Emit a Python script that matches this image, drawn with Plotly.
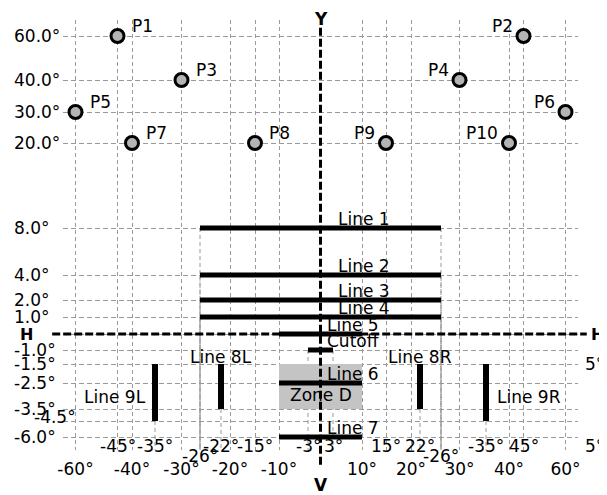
import numpy as np
import plotly.graph_objects as go

# ---------------- data (angles in degrees) ----------------
POINT_NAMES = ["P1", "P2", "P3", "P4", "P5", "P6", "P7", "P8", "P9", "P10"]
POINT_X = [-45, 45, -30, 30, -60, 60, -40, -15, 15, 40]
POINT_Y = [60, 60, 40, 40, 30, 30, 20, 20, 20, 20]
POINT_SIDE = ["right", "left", "right", "left", "right", "left", "right", "right", "left", "left"]

HLINE_NAMES = ["Line 1", "Line 2", "Line 3", "Line 4", "Line 5", "Cutoff", "Line 6", "Line 7"]
HLINE_Y = [8, 4, 2, 1, 0, -1, -2.5, -6]
HLINE_X0 = [-26, -26, -26, -26, -10, -3, -10, -10]
HLINE_X1 = [26, 26, 26, 26, 10, 3, 10, 10]

VLINE_NAMES = ["Line 8L", "Line 8R", "Line 9L", "Line 9R"]
VLINE_X = [-22, 22, -35, 35]
VLINE_Y0 = [-1.5, -1.5, -1.5, -1.5]
VLINE_Y1 = [-3.5, -3.5, -4.5, -4.5]

ZONE_NAME = "Zone D"
ZONE_X = [-10, 10]
ZONE_Y = [-1.5, -3.5]

Y_TICK_VALS = [60, 40, 30, 20, 8, 4, 2, 1, 0, -1, -1.5, -2.5, -3.5, -4.5, -6]
Y_TICK_TEXT = ["60.0°", "40.0°", "30.0°", "20.0°", "8.0°", "4.0°", "2.0°", "1.0°", "H",
               "-1.0°", "-1.5°", "-2.5°", "-3.5°", "-4.5°", "-6.0°"]

X_MAJOR_VALS = [-60, -40, -30, -20, -10, 10, 20, 30, 40, 60]
X_MAJOR_TEXT = ["-60°", "-40°", "-30°", "-20°", "-10°", "10°", "20°", "30°", "40°", "60°"]

X_SECOND_VALS = [-45, -35, -22, -15, -3, 3, 15, 22, 35, 45]
X_SECOND_TEXT = ["-45°", "-35°", "-22°", "-15°", "-3°", "3°", "15°", "22°", "-35°", "45°"]
X_THIRD_VALS = [-26, 26]
X_THIRD_TEXT = ["-26°", "-26°"]

X_EXTRA_GRID = [-45, -15, 15, 45]

# ---------------- non-linear angular scales of the diagram ----------------
X_SCALE_DEG = [0, 3, 10, 15, 20, 22, 26, 30, 35, 40, 45, 60]
X_SCALE_POS = [0, 12.5, 41.5, 65.5, 90.5, 99.5, 120.5, 139, 165.5, 188.5, 203, 245]
Y_SCALE_DEG = [-6, -4.5, -3.5, -2.5, -1.5, -1, 0, 1, 2, 4, 8, 20, 30, 40, 60]
Y_SCALE_POS = [-103, -87, -75, -49, -30, -16, 0, 17, 34, 59, 106, 191, 222, 254, 298]


def sx(d):
    d = np.asarray(d, dtype=float)
    return (np.sign(d) * np.interp(np.abs(d), X_SCALE_DEG, X_SCALE_POS)).tolist()


def sy(d):
    d = np.asarray(d, dtype=float)
    return np.interp(d, Y_SCALE_DEG, Y_SCALE_POS).tolist()


X_RANGE = [-257.5, 257.5]
Y_RANGE = [-116, 314]

FONT = "DejaVu Sans"
FS = 17
GRID = "#9a9a9a"
TXT = dict(family=FONT, size=FS, color="black")

fig = go.Figure()

# Zone D
zx0, zx1 = sx(ZONE_X)
zy0, zy1 = sy(ZONE_Y)
fig.add_trace(go.Scatter(x=[zx0, zx1, zx1, zx0, zx0], y=[zy0, zy0, zy1, zy1, zy0],
                         mode="lines", fill="toself", fillcolor="#c4c4c4",
                         line=dict(width=0), hoverinfo="skip"))

# drop lines (dashed, from mark ends down to the bottom of the grid)
drops = []
for x0, x1, y in zip(HLINE_X0, HLINE_X1, HLINE_Y):
    if abs(x0) in (26, 3):
        drops += [(x0, y), (x1, y)]
for x, y1 in zip(VLINE_X, VLINE_Y1):
    drops.append((x, y1))
for x, y in drops:
    fig.add_shape(type="line", xref="x", yref="y", x0=sx([x])[0], x1=sx([x])[0],
                  y0=sy([y])[0], y1=Y_RANGE[0],
                  line=dict(color=GRID, width=1, dash="4px,3px"), layer="below")

# axis lines H and V
fig.add_shape(type="line", xref="paper", yref="y", x0=-0.021, x1=1.017, y0=0, y1=0,
              line=dict(color="black", width=3, dash="8px,3px"))
fig.add_shape(type="line", xref="x", yref="paper", x0=0, x1=0, y0=0.982, y1=-0.035,
              line=dict(color="black", width=3, dash="8px,3px"))

# horizontal thick lines
for name, y, x0, x1 in zip(HLINE_NAMES, HLINE_Y, HLINE_X0, HLINE_X1):
    fig.add_trace(go.Scatter(x=sx([x0, x1]), y=sy([y, y]), mode="lines",
                             line=dict(color="black", width=5), hoverinfo="skip"))
    shift = 15.5 if name in ("Line 1", "Line 2", "Line 3", "Line 4") else 4.5
    fig.add_annotation(x=0, y=sy([y])[0], text=name, showarrow=False, xanchor="left",
                       yanchor="middle", xshift=shift, yshift=9, font=TXT)

# vertical thick lines
for name, x, y0, y1 in zip(VLINE_NAMES, VLINE_X, VLINE_Y0, VLINE_Y1):
    fig.add_trace(go.Scatter(x=sx([x, x]), y=sy([y0, y1]), mode="lines",
                             line=dict(color="black", width=6), hoverinfo="skip"))
    if name.startswith("Line 8"):
        fig.add_annotation(x=sx([x])[0], y=sy([y0])[0], text=name, showarrow=False,
                           xanchor="center", yanchor="middle", yshift=7, font=TXT)
    else:
        left = x < 0
        fig.add_annotation(x=sx([x])[0], y=sy([(y0 + y1) / 2])[0], text=name, showarrow=False,
                           xanchor="right" if left else "left", yanchor="middle",
                           xshift=-7 if left else 9, yshift=-1, font=TXT)

fig.add_annotation(x=0, y=sy([np.mean(ZONE_Y)])[0], text=ZONE_NAME, showarrow=False,
                   xanchor="center", yanchor="middle", yshift=-12, font=TXT)

# points
fig.add_trace(go.Scatter(x=sx(POINT_X), y=sy(POINT_Y), mode="markers",
                         marker=dict(size=13, color="#b4b4b4", line=dict(color="black", width=3)),
                         hoverinfo="skip"))
for name, x, y, side in zip(POINT_NAMES, POINT_X, POINT_Y, POINT_SIDE):
    fig.add_annotation(x=sx([x])[0], y=sy([y])[0], text=name, showarrow=False,
                       xanchor="left" if side == "right" else "right", yanchor="middle",
                       xshift=12 if side == "right" else -9, yshift=10, font=TXT)

# y tick labels (left aligned)
for v, t in zip(Y_TICK_VALS, Y_TICK_TEXT):
    if t == "H":
        fig.add_annotation(xref="paper", x=-0.087, y=sy([v])[0], text="<b>H</b>", showarrow=False,
                           xanchor="left", yanchor="middle", font=dict(family=FONT, size=16, color="black"))
        fig.add_annotation(xref="paper", x=1.054, y=sy([v])[0], text="<b>H</b>", showarrow=False,
                           xanchor="right", yanchor="middle", font=dict(family=FONT, size=16, color="black"))
    elif t == "-4.5°":
        fig.add_annotation(xref="paper", x=-0.06, y=sy([v])[0], text=t, showarrow=False,
                           xanchor="left", yanchor="middle", yshift=4, font=TXT)
    else:
        fig.add_annotation(xref="paper", x=-0.099, y=sy([v])[0], text=t, showarrow=False,
                           xanchor="left", yanchor="middle", font=TXT)

# secondary x labels
for v, t in zip(X_SECOND_VALS, X_SECOND_TEXT):
    fig.add_annotation(x=sx([v])[0], yref="paper", y=0.009, text=t, showarrow=False,
                       xanchor="center", yanchor="middle", font=TXT)
for v, t in zip(X_THIRD_VALS, X_THIRD_TEXT):
    fig.add_annotation(x=sx([v])[0], yref="paper", y=-0.014, text=t, showarrow=False,
                       xanchor="center", yanchor="middle", font=TXT)
# labels at the right edge
fig.add_annotation(xref="paper", x=1.054, y=sy([-1.5])[0], text="5°", showarrow=False,
                   xanchor="right", yanchor="middle", font=TXT)
fig.add_annotation(xref="paper", x=1.054, yref="paper", y=0.009, text="5°", showarrow=False,
                   xanchor="right", yanchor="middle", font=TXT)

# axis names
fig.add_annotation(x=0, yref="paper", y=1.0023, text="<b>Y</b>", showarrow=False,
                   xanchor="center", yanchor="middle", font=dict(family=FONT, size=17, color="black"))
fig.add_annotation(x=0, yref="paper", y=-0.081, text="<b>V</b>", showarrow=False,
                   xanchor="center", yanchor="middle", font=dict(family=FONT, size=17, color="black"))

fig.update_xaxes(range=X_RANGE, tickmode="array", tickvals=sx(X_MAJOR_VALS), ticktext=X_MAJOR_TEXT,
                 showgrid=True, gridcolor=GRID, gridwidth=1, griddash="4px,3px",
                 zeroline=False, showline=False, ticks="", ticklabelstandoff=7,
                 tickfont=TXT,
                 minor=dict(tickmode="array", tickvals=sx(X_EXTRA_GRID), showgrid=True,
                            gridcolor=GRID, gridwidth=1, griddash="4px,3px", ticks=""))
fig.update_yaxes(range=Y_RANGE, tickmode="array", tickvals=sy(Y_TICK_VALS), showticklabels=False,
                 showgrid=True, gridcolor=GRID, gridwidth=1, griddash="5px,3px",
                 zeroline=False, showline=False, ticks="")

# the page adds an 8px body margin, so the figure is sized to the remaining viewport
fig.update_layout(width=599, height=487, margin=dict(l=55, r=29, t=12, b=45),
                  plot_bgcolor="white", paper_bgcolor="white", showlegend=False,
                  font=TXT)

fig.write_html("out.html")
